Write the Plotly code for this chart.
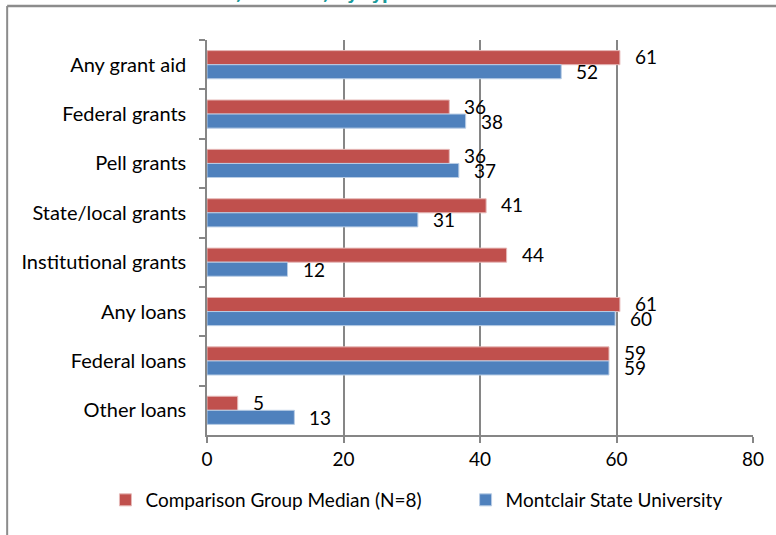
import plotly.graph_objects as go

# Percent of undergraduates receiving aid, by type of aid
categories = ['Any grant aid', 'Federal grants', 'Pell grants', 'State/local grants',
              'Institutional grants', 'Any loans', 'Federal loans', 'Other loans']
comparison = [60.5, 35.5, 35.5, 40.9, 43.9, 60.5, 58.9, 4.5]
montclair = [51.9, 37.9, 36.9, 30.9, 11.8, 59.8, 58.9, 12.8]
series_names = ['Comparison Group Median (N=8)', 'Montclair State University']
x_ticks = [0, 20, 40, 60, 80]

red = '#C0504D'
blue = '#4F81BD'
grid = '#868686'
frame = '#8C8C8C'
font = 'Lato, Liberation Sans, sans-serif'
fsize = 20

fig = go.Figure()
fig.add_trace(go.Bar(y=categories, x=comparison, orientation='h', name=series_names[0],
                     marker=dict(color=red, line=dict(color='#E6B9B8', width=1)),
                     legend='legend'))
fig.add_trace(go.Bar(y=categories, x=montclair, orientation='h', name=series_names[1],
                     marker=dict(color=blue, line=dict(color='#B9CDE5', width=1)),
                     legend='legend2'))

# data labels, Excel style: a bit to the right of each bar end
annotations = []
for vals, yshift in [(comparison, 8), (montclair, -7)]:
    for cat, v in zip(categories, vals):
        annotations.append(dict(x=v, y=cat, text=str(int(v + 0.5)), showarrow=False,
                                xanchor='left', xshift=13, yshift=yshift,
                                xref='x', yref='y',
                                font=dict(size=19, color='black', family=font)))

# title of the chart, mostly cut off at the top of the page
annotations.append(dict(text='<b>institution, or loans, by type of aid: 2010-11</b>',
                        x=0.253, y=1.0865, xref='paper', yref='paper',
                        xanchor='center', yanchor='bottom', showarrow=False,
                        font=dict(size=16.5, color='#1A9A9A', family='DejaVu Sans')))

legend_style = dict(orientation='h', xanchor='left', y=-0.1646, yanchor='middle',
                    font=dict(size=19), itemwidth=30, bgcolor='rgba(0,0,0,0)')

fig.update_layout(
    width=776, height=535,
    margin=dict(l=207, r=20, t=40, b=100),
    paper_bgcolor='white', plot_bgcolor='white',
    barmode='group', bargap=0.43, bargroupgap=0,
    font=dict(family=font, size=fsize, color='black'),
    xaxis=dict(range=[0, 80], tickvals=x_ticks, showgrid=True, gridcolor=grid, gridwidth=1.5,
               showline=True, linecolor=grid, linewidth=1.5, ticks='outside', ticklen=6,
               tickcolor=grid, tickwidth=1.5, zeroline=False, tickfont=dict(size=19)),
    yaxis=dict(autorange='reversed', showline=True, linecolor=grid, linewidth=1.5,
               ticks='outside', tickson='boundaries', ticklen=6, tickcolor=grid,
               tickwidth=1.5, showgrid=False, tickfont=dict(size=fsize),
               ticklabelstandoff=15),
    showlegend=True,
    legend=dict(x=-0.186, **legend_style),
    legend2=dict(x=0.4736, **legend_style),
    annotations=annotations,
    # outer chart frame (top and left edges are in view)
    shapes=[
        dict(type='line', xref='paper', yref='paper', x0=-0.366, x1=1.05, y0=1.086, y1=1.086,
             line=dict(color=frame, width=2.5)),
        dict(type='line', xref='paper', yref='paper', x0=-0.366, x1=-0.366, y0=-0.3, y1=1.086,
             line=dict(color=frame, width=2)),
    ],
)

fig.write_html('out.html', config={'displayModeBar': False},
               post_script="document.body.style.margin='0';")
